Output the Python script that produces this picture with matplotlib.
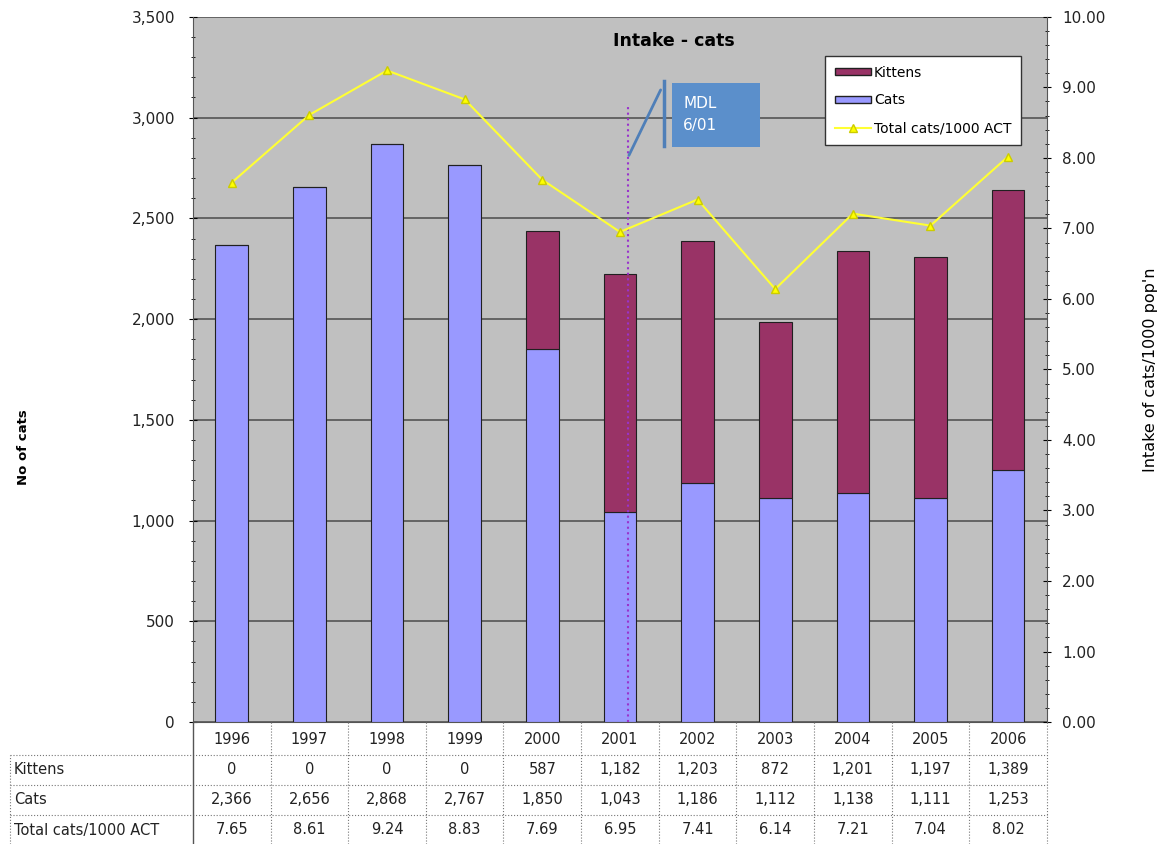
import numpy as np
import matplotlib.pyplot as plt
import matplotlib.transforms as mtransforms
from matplotlib.patches import Rectangle
from matplotlib.lines import Line2D

years = ['1996', '1997', '1998', '1999', '2000', '2001', '2002', '2003', '2004', '2005', '2006']
kittens = [0, 0, 0, 0, 587, 1182, 1203, 872, 1201, 1197, 1389]
cats = [2366, 2656, 2868, 2767, 1850, 1043, 1186, 1112, 1138, 1111, 1253]
rate = [7.65, 8.61, 9.24, 8.83, 7.69, 6.95, 7.41, 6.14, 7.21, 7.04, 8.02]
mdl_x = 5.1  # 6/01, just past middle of 2001

plt.rcParams['font.family'] = ['DejaVu Sans']
txt_col = '#222222'

fig = plt.figure(figsize=(11.62, 8.44), dpi=100)
ax = fig.add_axes([0.166, 0.1445, 0.735, 0.8355])
ax.set_facecolor('#C0C0C0')
x = np.arange(len(years))

ax.bar(x, cats, width=0.42, color='#9999FF', edgecolor='#202020', linewidth=0.8, label='Cats', zorder=3)
ax.bar(x, kittens, width=0.42, bottom=cats, color='#993366', edgecolor='#202020', linewidth=0.8,
       label='Kittens', zorder=3)
ax.set_xlim(-0.5, len(years) - 0.5)
ax.set_ylim(0, 3500)
ax.set_yticks(np.arange(0, 3501, 500))
ax.set_yticks(np.arange(0, 3501, 100), minor=True)
ax.set_yticklabels([f'{v:,}' for v in range(0, 3501, 500)], fontsize=11, color=txt_col)
ax.yaxis.grid(True, color='#555555', linewidth=1.2, zorder=1)
ax.set_axisbelow(True)
ax.set_xticks([])
ax.tick_params(axis='y', which='major', length=6, direction='inout', pad=10)
ax.tick_params(axis='y', which='minor', length=3, direction='inout')
for s in ['top', 'right']:
    ax.spines[s].set_visible(False)
ax.spines['left'].set_color('#555555')
ax.spines['bottom'].set_color('#555555')
ax.set_ylabel('No of cats', fontsize=9.5, fontweight='bold')
ax.yaxis.set_label_coords(-0.191, 0.39)

ax2 = ax.twinx()
ax2.plot(x, rate, color='#FFFF33', linewidth=1.5, marker='^', markersize=6,
         markerfacecolor='#FFFF00', markeredgecolor='#CCCC00', label='Total cats/1000 ACT', zorder=4)
ax2.set_ylim(0, 10)
ax2.set_yticks(np.arange(0, 10.01, 1))
ax2.set_yticks(np.arange(0, 10.01, 0.2), minor=True)
ax2.set_yticklabels([f'{v:.2f}' for v in range(11)], fontsize=11, color=txt_col)
ax2.tick_params(axis='y', which='major', length=6, direction='inout', pad=8)
ax2.tick_params(axis='y', which='minor', length=3, direction='inout')
for s in ['top', 'left', 'bottom']:
    ax2.spines[s].set_visible(False)
ax2.spines['right'].set_color('#555555')
ax2.set_ylabel("Intake of cats/1000 pop'n", fontsize=11.5, rotation=90)
ax2.yaxis.set_label_coords(1.112, 0.5)

# MDL marker line and callout
ax.plot([mdl_x, mdl_x], [0, 3060], color='#9933CC', linestyle=':', linewidth=1.5, zorder=5)
ax.annotate('', xy=(mdl_x, 2800), xytext=(mdl_x + 0.44, 3150),
            arrowprops=dict(arrowstyle='-', color='#4F7FB8', linewidth=2), zorder=6)
ax.plot([mdl_x + 0.47, mdl_x + 0.47], [2860, 3180], color='#4F7FB8', linewidth=2.5, zorder=6)
ax.add_patch(Rectangle((0.561, 0.816), 0.103, 0.09, transform=ax.transAxes,
                       facecolor='#5B8FCB', edgecolor='none', zorder=7))
ax.text(0.574, 0.861, 'MDL\n6/01', transform=ax.transAxes, color='white', fontsize=11,
        ha='left', va='center', linespacing=1.6, zorder=8)
ax.text(5.7, 3380, 'Intake - cats', fontsize=12.5, fontweight='bold', ha='center', va='center')

handles = [Rectangle((0, 0), 1, 1, facecolor='#993366', edgecolor='#202020'),
           Rectangle((0, 0), 1, 1, facecolor='#9999FF', edgecolor='#202020'),
           Line2D([0], [0], color='#FFFF33', marker='^', markerfacecolor='#FFFF00',
                  markeredgecolor='#CCCC00', markersize=6)]
leg = ax.legend(handles, ['Kittens', 'Cats', 'Total cats/1000 ACT'], loc='upper right',
                bbox_to_anchor=(0.9696, 0.9447), fontsize=10, frameon=True, fancybox=False,
                handlelength=2.6, handleheight=0.4, handletextpad=0.2, borderpad=0.7,
                labelspacing=1.0, borderaxespad=0)
leg.get_frame().set_edgecolor('#333333')
leg.get_frame().set_linewidth(1)
leg.get_frame().set_alpha(1)
leg.set_zorder(10)

# data table below the plot
trans = mtransforms.blended_transform_factory(ax.transData, fig.transFigure)
row_y = [1 - 740 / 844, 1 - 770 / 844, 1 - 800 / 844, 1 - 830 / 844]
rows = [('Kittens', [f'{v:,}' for v in kittens]),
        ('Cats', [f'{v:,}' for v in cats]),
        ('Total cats/1000 ACT', [f'{v:.2f}' for v in rate])]
for i, yr in enumerate(years):
    fig.text(i, row_y[0], yr, transform=trans, ha='center', va='center', fontsize=10.5, color=txt_col)
for r, (name, vals) in enumerate(rows):
    fig.text(14 / 1162, row_y[r + 1], name, ha='left', va='center', fontsize=10.5, color=txt_col)
    for i, v in enumerate(vals):
        fig.text(i, row_y[r + 1], v, transform=trans, ha='center', va='center', fontsize=10.5,
                 color=txt_col)

line_kw = dict(color='#777777', linewidth=0.8, linestyle=':')
for yb in [755, 785, 815]:
    fig.add_artist(Line2D([10 / 1162, 0.901], [1 - yb / 844] * 2, **line_kw))
for i in range(1, len(years)):
    fig.add_artist(Line2D([i - 0.5, i - 0.5], [0, 1 - 722 / 844], transform=trans, **line_kw))
fig.add_artist(Line2D([10 / 1162, 10 / 1162], [0, 1 - 755 / 844], **line_kw))
fig.add_artist(Line2D([len(years) - 0.5] * 2, [0, 1 - 722 / 844], transform=trans, **line_kw))
fig.add_artist(Line2D([-0.5, -0.5], [0, 1 - 722 / 844], transform=trans, color='#555555', linewidth=1))

fig.savefig('out.png', dpi=100)
